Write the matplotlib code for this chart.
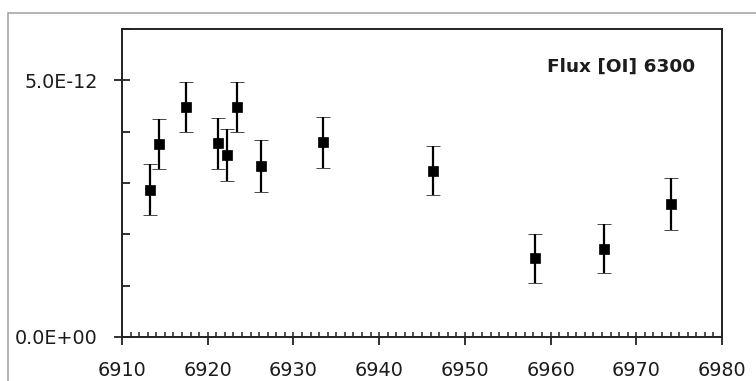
import matplotlib
matplotlib.use("Agg")
import matplotlib.pyplot as plt
from matplotlib.ticker import MultipleLocator, FixedLocator, FuncFormatter
from matplotlib.patches import Rectangle

# Data (flux in units of 1e-12)
jd = [6913.3, 6914.3, 6917.5, 6921.2, 6922.2, 6923.4, 6926.2, 6933.4, 6946.25, 6958.2, 6966.2, 6974.1]
flux_e12 = [2.87, 3.76, 4.48, 3.77, 3.54, 4.48, 3.33, 3.79, 3.24, 1.53, 1.72, 2.59]
err_e12 = [0.50, 0.49, 0.49, 0.50, 0.51, 0.49, 0.50, 0.50, 0.48, 0.48, 0.48, 0.50]
title_text = "Flux [OI] 6300"

flux = [v * 1e-12 for v in flux_e12]
err = [v * 1e-12 for v in err_e12]

W, H = 756, 381
fig = plt.figure(figsize=(W / 100, H / 100), dpi=100)
fig.patch.set_facecolor("white")

# outer chart-area border (extends beyond right/bottom of the image)
fig.patches.append(Rectangle((8 / W, -20 / H), (W + 40) / W, (H - 13 + 20) / H,
                             transform=fig.transFigure, fill=False,
                             edgecolor="#a0a0a0", linewidth=1.1, clip_on=False))

left, right, top, bottom = 122, 722, 29, 337
ax = fig.add_axes([left / W, (H - bottom) / H, (right - left) / W, (bottom - top) / H])

ax.errorbar(jd, flux, yerr=err, fmt="s", color="black", markersize=7.0,
            markeredgewidth=0.5, ecolor="black", elinewidth=1.6, capsize=5.0,
            capthick=1.6, clip_on=False, zorder=3)

ax.set_xlim(6910, 6980)
ax.set_ylim(0, 6e-12)

ax.xaxis.set_major_locator(MultipleLocator(10))
ax.xaxis.set_minor_locator(MultipleLocator(1))
ax.yaxis.set_major_locator(FixedLocator([0, 5e-12]))
ax.yaxis.set_minor_locator(MultipleLocator(1e-12))
ax.xaxis.remove_overlapping_locs = False
ax.yaxis.remove_overlapping_locs = False

ax.yaxis.set_major_formatter(FuncFormatter(lambda v, p: "{:.1E}".format(v)))
ax.xaxis.set_major_formatter(FuncFormatter(lambda v, p: "{:d}".format(int(round(v)))))

txtc = "#1c1c1c"
font = "DejaVu Sans"
ax.tick_params(axis="x", which="major", direction="out", length=6, width=1.3,
               color="#222222", labelsize=13.8, labelcolor=txtc, pad=11.5)
ax.tick_params(axis="x", which="minor", direction="in", length=3.3, width=1.1,
               color="#222222")
ax.tick_params(axis="y", which="major", direction="out", length=5.8, width=1.3,
               color="#222222", labelsize=13.8, labelcolor=txtc, pad=11.5)
ax.tick_params(axis="y", which="minor", direction="in", length=5.8, width=1.3,
               color="#222222")
for lab in ax.get_xticklabels() + ax.get_yticklabels():
    lab.set_family(font)

for s in ax.spines.values():
    s.set_color("#222222")
    s.set_linewidth(1.4)

ax.text(0.955, 0.86, title_text, transform=ax.transAxes, ha="right", va="baseline",
        fontsize=13.3, fontweight="bold", color=txtc, family=font)

fig.savefig("out.png", dpi=100)
